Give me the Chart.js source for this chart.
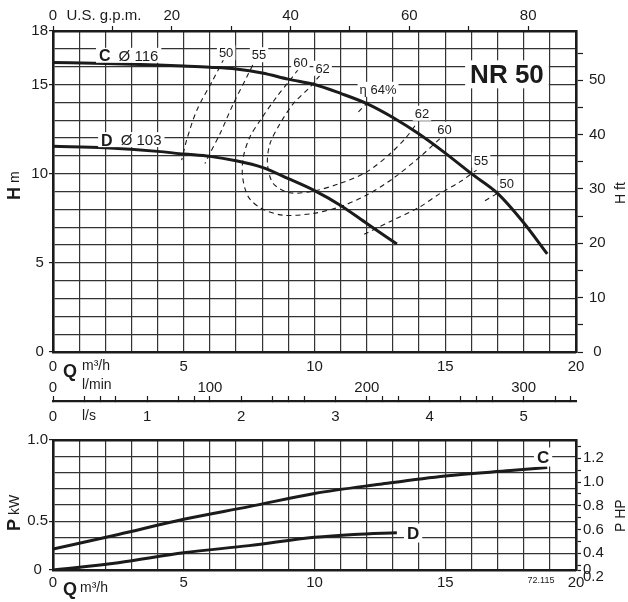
<!DOCTYPE html>
<html>
<head>
<meta charset="utf-8">
<script src="https://cdn.jsdelivr.net/npm/chart.js@4.4.1/dist/chart.umd.min.js"></script>
<style>
body { margin: 0; background: #fff; }
#wrap { position: relative; width: 628px; height: 602px; }
canvas { position: absolute; left: 0; }
</style>
</head>
<body>
<div id="wrap">
  <canvas id="hq" width="628" height="425" style="top:0"></canvas>
  <canvas id="pq" width="628" height="177" style="top:425px"></canvas>
</div>
<script>
// head curves, Q in m3/h, H in m
const qC = [0, 2, 4, 5, 6, 7, 8, 9, 10, 11, 12, 13, 14, 15, 16, 17, 18, 18.9];
const hC = [16.23, 16.18, 16.1, 16.04, 15.97, 15.87, 15.65, 15.3, 15.0, 14.5, 13.93, 13.15, 12.22, 11.15, 10.0, 8.9, 7.25, 5.5];
const qD = [0, 2, 4, 5, 6, 7, 8, 9, 10, 11, 12, 13.15];
const hD = [11.54, 11.45, 11.25, 11.1, 10.97, 10.72, 10.35, 9.72, 9.05, 8.22, 7.21, 6.05];

// efficiency lines (dashed)
const eff50aQ = [6.54, 6.11, 5.5, 5.11, 4.92];
const eff50aH = [16.45, 15.24, 13.56, 11.88, 10.76];
const eff55aQ = [7.79, 7.41, 6.9, 6.39, 6.0, 5.81];
const eff55aH = [16.54, 15.42, 13.93, 12.25, 11.13, 10.57];
const eff60Q = [9.38, 9.06, 8.55, 7.97, 7.53, 7.28, 7.25, 7.47, 7.97, 8.8, 9.95, 10.97, 12.0, 13.0, 14.03, 14.8];
const eff60H = [15.85, 15.24, 14.3, 13.09, 12.06, 10.94, 9.82, 8.7, 8.05, 7.67, 7.77, 8.14, 8.8, 9.73, 10.94, 11.97];
const eff62Q = [10.2, 9.83, 9.19, 8.68, 8.3, 8.2, 8.42, 9.06, 9.95, 10.97, 12.0, 12.9, 13.52, 13.9];
const eff62H = [15.5, 14.86, 13.93, 12.8, 11.69, 10.57, 9.45, 8.93, 9.02, 9.45, 10.1, 11.13, 12.06, 12.8];
const eff64Q = [11.68, 12.12];
const eff64H = [13.46, 14.12];
const eff55bQ = [11.9, 13.0, 14.03, 14.8, 15.56, 16.2];
const eff55bH = [6.6, 7.39, 8.14, 8.89, 9.54, 10.2];
const eff50bQ = [16.52, 17.09];
const eff50bH = [8.48, 8.98];

// power curves, P in kW
const qPC = [0, 2.5, 5, 7.5, 10, 12.5, 15, 17.5, 18.9];
const pC = [0.215, 0.365, 0.52, 0.65, 0.785, 0.88, 0.965, 1.02, 1.05];
const qPD = [0, 2.5, 5, 7.5, 10, 11.5, 13.15];
const pD = [0, 0.075, 0.177, 0.25, 0.335, 0.365, 0.383];

// tick labels
const qLabels = [0, 5, 10, 15, 20];
const gpmLabels = [0, 20, 40, 60, 80];
const lminLabels = [0, 100, 200, 300];
const lsLabels = [0, 1, 2, 3, 4, 5];
const hmLabels = [0, 5, 10, 15, 18];
const hftLabels = [0, 10, 20, 30, 40, 50];
const kwTicks = [0, 1, 2, 3, 4, 5, 6, 7, 8].map(k => k / 6);
const kwText = ['0', '', '', '0.5', '', '', '', '', '1.0'];
const HP_MIN = 0.2594, HP_MAX = 1.354;
const hpTicks = [0.2, HP_MIN, 0.3, 0.4, 0.5, 0.6, 0.7, 0.8, 0.9, 1.0, 1.1, 1.2, 1.3];
const hpText = ['0.2', '0', '', '0.4', '', '0.6', '', '0.8', '', '1.0', '', '1.2', ''];

// efficiency tags [text, Q, H]
const effTags = [['50', 6.62, 16.78], ['55', 7.88, 16.67], ['60', 9.46, 16.22], ['62', 10.31, 15.91],
  ['η 64%', 12.43, 14.73], ['62', 14.11, 13.39], ['60', 14.97, 12.49], ['55', 16.37, 10.76], ['50', 17.35, 9.47]];

const GPM = 0.2271247, FT = 0.3048;
const INK = '#1b1b1b', GRID = '#333', NONE = 'rgba(0,0,0,0)';
const F = "'Liberation Sans', Arial, sans-serif";
Chart.defaults.font.family = F;
Chart.defaults.font.size = 15;
Chart.defaults.color = INK;
Chart.defaults.animation = false;

const has = (arr, v) => arr.some(a => Math.abs(a - v) < 1e-6);
const pts = (xs, ys) => xs.map((x, i) => ({x, y: ys[i]}));
const dash = (q, h) => ({data: pts(q, h), borderColor: INK, borderWidth: 1.1, borderDash: [5, 4], tension: 0.3});
const solid = (q, h) => ({data: pts(q, h), borderColor: INK, borderWidth: 3, cubicInterpolationMode: 'monotone'});

function tag(c, text, font, x, y, pad = 2) {
    c.font = font;
    const w = c.measureText(text).width;
    const h = parseInt(font.match(/(\d+)px/)[1]);
    c.fillStyle = '#fff';
    c.fillRect(x - w / 2 - pad, y - h / 2 - 1, w + pad * 2, h + 2);
    c.fillStyle = INK;
    c.textAlign = 'center'; c.textBaseline = 'middle';
    c.fillText(text, x, y + 1);
}

function curveTag(c, a, b, x, y) {
    c.font = 'bold 16px ' + F;
    const wa = c.measureText(a).width;
    c.font = '15px ' + F;
    const wb = c.measureText(b).width;
    c.fillStyle = '#fff';
    c.fillRect(x - 3, y - 8, wa + wb + 14, 15);
    c.fillStyle = INK;
    c.textAlign = 'left'; c.textBaseline = 'middle';
    c.font = 'bold 16px ' + F;
    c.fillText(a, x, y + 1);
    c.font = '15px ' + F;
    c.fillText(b, x + wa + 8, y + 1);
}

function text(c, s, font, x, y, align = 'left') {
    c.font = font; c.fillStyle = INK;
    c.textAlign = align; c.textBaseline = 'middle';
    c.fillText(s, x, y);
}

function upText(c, parts, x, y) {
    c.save();
    c.translate(x, y);
    c.rotate(-Math.PI / 2);
    let off = 0;
    parts.forEach(p => {
        c.font = p[1]; c.fillStyle = INK;
        c.textAlign = 'left'; c.textBaseline = 'middle';
        c.fillText(p[0], off, 0);
        off += c.measureText(p[0]).width + 4;
    });
    c.restore();
}

const hqNotes = {
    id: 'hqNotes',
    afterDatasetsDraw(ch) {
        const c = ch.ctx, sx = ch.scales.x, sy = ch.scales.y;
        const X = v => sx.getPixelForValue(v), Y = v => sy.getPixelForValue(v);
        c.save();
        effTags.forEach(t => tag(c, t[0], '13px ' + F, X(t[1]), Y(t[2])));
        curveTag(c, 'C', 'Ø 116', X(1.76), Y(16.61));
        curveTag(c, 'D', 'Ø 103', X(1.84), Y(11.88));
        tag(c, 'NR 50', 'bold 26px ' + F, X(17.36), Y(15.57), 5);
        c.restore();
    },
    afterDraw(ch) {
        const c = ch.ctx;
        c.save();
        text(c, 'U.S. g.p.m.', '15px ' + F, 104, 16, 'center');
        text(c, 'Q', 'bold 18px ' + F, 70, 372, 'center');
        text(c, 'm³/h', '14px ' + F, 82, 366);
        text(c, 'l/min', '14px ' + F, 82, 385);
        text(c, 'l/s', '14px ' + F, 82, 416);
        upText(c, [['H', 'bold 18px ' + F], ['m', '14px ' + F]], 15, 200);
        upText(c, [['H ft', '14px ' + F]], 621, 204);
        c.restore();
    }
};

const pqNotes = {
    id: 'pqNotes',
    afterDatasetsDraw(ch) {
        const c = ch.ctx, sx = ch.scales.x, sy = ch.scales.y;
        c.save();
        tag(c, 'C', 'bold 17px ' + F, sx.getPixelForValue(18.74), sy.getPixelForValue(1.159), 3);
        tag(c, 'D', 'bold 17px ' + F, sx.getPixelForValue(13.77), sy.getPixelForValue(0.379), 3);
        c.restore();
    },
    afterDraw(ch) {
        const c = ch.ctx;
        c.save();
        text(c, 'Q', 'bold 18px ' + F, 70, 165, 'center');
        text(c, 'm³/h', '14px ' + F, 80, 163);
        text(c, '72.115', '9px ' + F, 541, 156, 'center');
        upText(c, [['P', 'bold 18px ' + F], ['kW', '14px ' + F]], 15, 106);
        upText(c, [['P HP', '14px ' + F]], 621, 107);
        c.restore();
    }
};

const lsMarks = [];
for (let i = 0; i <= 16; i++) lsMarks.push(i / 3);
[0.5, 1.5, 2.5, 3.5, 4.5, 5.5].forEach(v => lsMarks.push(v));

const qAxis = (h, pad) => ({
    type: 'linear', position: 'bottom', min: 0, max: 20,
    ticks: {stepSize: 1, autoSkip: false, maxRotation: 0, padding: pad, callback: v => has(qLabels, v) ? String(v) : ''},
    grid: {color: GRID, lineWidth: 1.2, drawTicks: false},
    border: {color: INK, width: 2.6},
    afterFit: s => { s.height = h; }
});

new Chart(document.getElementById('hq'), {
    type: 'scatter',
    data: {
        datasets: [
            dash(eff50aQ, eff50aH), dash(eff55aQ, eff55aH), dash(eff60Q, eff60H), dash(eff62Q, eff62H),
            dash(eff64Q, eff64H), dash(eff55bQ, eff55bH), dash(eff50bQ, eff50bH),
            solid(qC, hC), solid(qD, hD)
        ].map(d => Object.assign(d, {showLine: true, pointRadius: 0, xAxisID: 'x', yAxisID: 'y'}))
    },
    options: {
        responsive: false,
        layout: {padding: 0},
        plugins: {legend: {display: false}, tooltip: {enabled: false}},
        scales: {
            x: qAxis(24, 6),
            xl: {
                type: 'linear', position: 'bottom', min: 0, max: 1000 / 3,
                afterBuildTicks: s => { s.ticks = lminLabels.map(v => ({value: v})); },
                ticks: {autoSkip: false, maxRotation: 0, padding: 3, callback: v => String(v)},
                grid: {display: false, drawTicks: false},
                border: {display: false},
                afterFit: s => { s.height = 25; }
            },
            xs: {
                type: 'linear', position: 'bottom', min: 0, max: 20 / 3.6,
                afterBuildTicks: s => { s.ticks = lsMarks.map(v => ({value: v})); },
                ticks: {autoSkip: false, maxRotation: 0, padding: 12, callback: v => has(lsLabels, v) ? String(Math.round(v)) : ''},
                grid: {display: true, drawOnChartArea: false, drawTicks: true, tickLength: -5, tickColor: INK, tickWidth: 1.2},
                border: {color: INK, width: 2.2},
                afterFit: s => { s.height = 24; }
            },
            xg: {
                type: 'linear', position: 'top', min: 0, max: 20 / GPM,
                ticks: {stepSize: 10, includeBounds: false, autoSkip: false, maxRotation: 0, padding: 1,
                    callback: v => has(gpmLabels, v) ? String(v) : ''},
                grid: {drawOnChartArea: false, tickLength: 5, tickColor: INK, tickWidth: 1.2},
                border: {color: INK, width: 2.6},
                afterFit: s => { s.height = 31; }
            },
            y: {
                type: 'linear', position: 'left', min: 0, max: 18,
                ticks: {stepSize: 1, autoSkip: false, padding: 1, crossAlign: 'center',
                    callback: v => has(hmLabels, v) ? String(v) : ''},
                grid: {color: GRID, lineWidth: 1.2, tickLength: 4,
                    tickColor: c => has(hmLabels, c.tick.value) ? INK : NONE},
                border: {color: INK, width: 2.6},
                afterFit: s => { s.width = 53; }
            },
            yf: {
                type: 'linear', position: 'right', min: 0, max: 18 / FT,
                ticks: {stepSize: 5, includeBounds: false, autoSkip: false, padding: 6, crossAlign: 'center',
                    callback: v => has(hftLabels, v) ? String(v) : ''},
                grid: {drawOnChartArea: false, tickLength: 7, tickColor: INK, tickWidth: 1.2},
                border: {color: INK, width: 2.6},
                afterFit: s => { s.width = 52; }
            }
        }
    },
    plugins: [hqNotes]
});

new Chart(document.getElementById('pq'), {
    type: 'scatter',
    data: {
        datasets: [solid(qPC, pC), solid(qPD, pD)]
            .map(d => Object.assign(d, {showLine: true, pointRadius: 0, xAxisID: 'x', yAxisID: 'y'}))
    },
    options: {
        responsive: false,
        layout: {padding: 0},
        plugins: {legend: {display: false}, tooltip: {enabled: false}},
        scales: {
            x: qAxis(32, 3.5),
            xt: {
                type: 'linear', position: 'top', min: 0, max: 20,
                ticks: {display: false},
                grid: {drawOnChartArea: false, drawTicks: false},
                border: {color: INK, width: 2.6},
                afterFit: s => { s.height = 15; }
            },
            y: {
                type: 'linear', position: 'left', min: 0, max: 4 / 3,
                afterBuildTicks: s => { s.ticks = kwTicks.map(v => ({value: v})); },
                ticks: {autoSkip: false, padding: 1, crossAlign: 'center', callback: (v, i) => kwText[i]},
                grid: {color: GRID, lineWidth: 1.2, tickLength: 4, tickColor: c => kwText[c.index] ? INK : NONE},
                border: {color: INK, width: 2.6},
                afterFit: s => { s.width = 53; }
            },
            yh: {
                type: 'linear', position: 'right', min: HP_MIN, max: HP_MAX,
                afterBuildTicks: s => { s.ticks = hpTicks.map(v => ({value: v})); },
                ticks: {autoSkip: false, padding: 2, callback: (v, i) => hpText[i]},
                grid: {drawOnChartArea: false, tickLength: 5, tickWidth: 1.2, tickColor: c => c.index === 0 ? NONE : INK},
                border: {color: INK, width: 2.6},
                afterFit: s => { s.width = 52; }
            }
        }
    },
    plugins: [pqNotes]
});
</script>
</body>
</html>
